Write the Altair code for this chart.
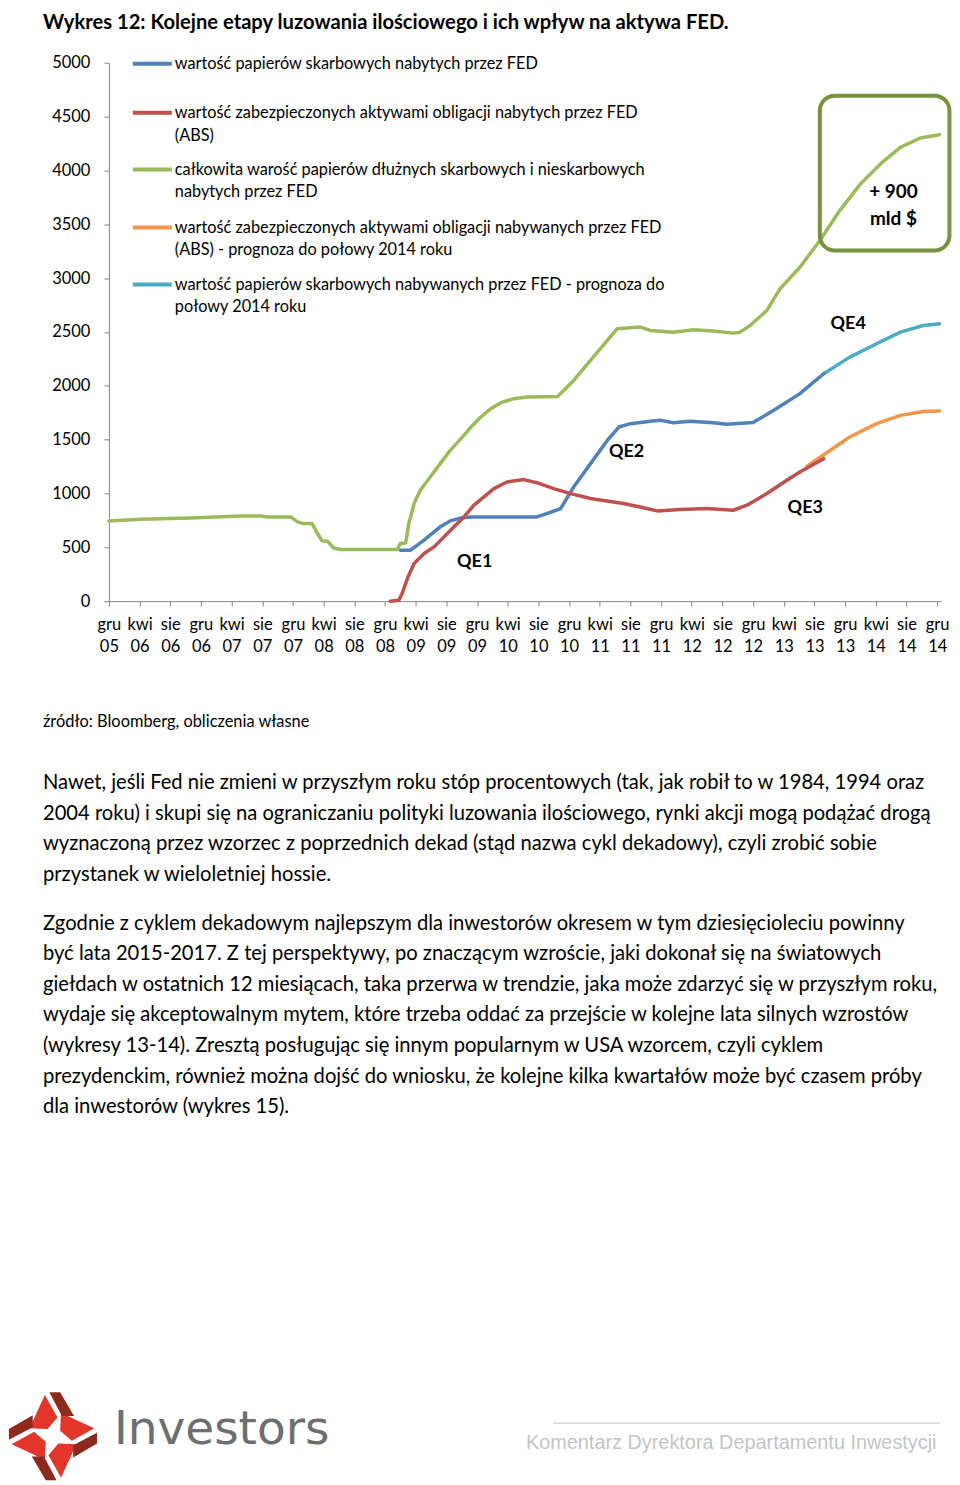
import altair as alt
import pandas as pd

# ---------------- data ----------------
TITLE = "Wykres 12: Kolejne etapy luzowania ilościowego i ich wpływ na aktywa FED."

SERIES_KEYS = ["tsy", "abs", "total", "abs_f", "tsy_f"]
SERIES_LABELS = [
    "wartość papierów skarbowych nabytych przez FED",
    "wartość zabezpieczonych aktywami obligacji nabytych przez FED\n(ABS)",
    "całkowita warość papierów dłużnych skarbowych i nieskarbowych\nnabytych przez FED",
    "wartość zabezpieczonych aktywami obligacji nabywanych przez FED\n(ABS) - prognoza do połowy 2014 roku",
    "wartość papierów skarbowych nabywanych przez FED - prognoza do\npołowy 2014 roku",
]
SERIES_COLORS = ["#4F81BD", "#C0504D", "#9BBB59", "#F79646", "#4BACC6"]

X_LABELS = ["gru 05", "kwi 06", "sie 06", "gru 06", "kwi 07", "sie 07", "gru 07",
            "kwi 08", "sie 08", "gru 08", "kwi 09", "sie 09", "gru 09", "kwi 10",
            "sie 10", "gru 10", "kwi 11", "sie 11", "gru 11", "kwi 12", "sie 12",
            "gru 12", "kwi 13", "sie 13", "gru 13", "kwi 14", "sie 14", "gru 14"]
Y_TICKS = [0, 500, 1000, 1500, 2000, 2500, 3000, 3500, 4000, 4500, 5000]

# months since Dec 2005, values in bn USD
TOTAL_M = [0, 4.2, 10.7, 17.2, 19.8, 20.7, 23.7, 24.6, 25.4, 26.5, 27.2, 27.8, 28.5,
           29.3, 30.2, 37.6, 38.0, 38.7, 39.1, 39.8, 40.6, 41.9, 43.2, 44.5, 45.9,
           47.2, 48.5, 49.8, 51.1, 52.8, 54.5, 58.5, 59.1, 60.6, 62.8, 65.0, 66.3,
           69.3, 70.6, 73.6, 76.2, 78.8, 81.4, 82.3, 83.6, 85.8, 87.5, 90.1, 92.7,
           95.3, 98.0, 100.6, 103.2, 105.8, 108.3]
TOTAL_V = [745, 761, 773, 791, 791, 782, 782, 736, 720, 720, 628, 560, 557,
           494, 479, 479, 535, 540, 720, 906, 1030, 1153, 1277, 1400, 1509,
           1617, 1710, 1787, 1843, 1880, 1895, 1900, 1942, 2050, 2236, 2421, 2530,
           2545, 2514, 2498, 2520, 2508, 2489, 2498, 2560, 2700, 2900, 3101, 3349,
           3627, 3875, 4060, 4214, 4301, 4332]

TSY_M = [38.0, 39.3, 41.1, 43.2, 44.5, 45.9, 47.2, 55.8, 57.1, 58.9, 60.6, 62.8,
         65.0, 66.5, 68.0, 70.6, 72.0, 73.6, 75.8, 78.8, 80.6, 84.0, 86.7, 90.1, 93.2]
TSY_V = [473, 473, 566, 690, 745, 773, 782, 782, 813, 860, 1060, 1277,
         1494, 1617, 1648, 1670, 1679, 1657, 1670, 1657, 1642, 1660, 1772, 1927, 2112]

ABS_M = [36.7, 37.8, 38.2, 39.0, 39.8, 41.1, 42.4, 43.7, 45.0, 46.3, 47.6, 48.9,
         50.2, 51.9, 54.1, 55.8, 58.0, 60.2, 62.8, 67.1, 69.3, 71.5, 74.5, 78.0,
         81.4, 83.2, 85.8, 88.4, 90.1, 93.2]
ABS_V = [0, 9, 65, 225, 350, 442, 504, 597, 690, 782, 891, 968,
         1045, 1107, 1129, 1100, 1045, 999, 953, 906, 875, 838, 851, 860,
         844, 891, 999, 1122, 1200, 1323]

ABS_F_M = [91.0, 93.2, 96.6, 100.1, 103.2, 106.2, 108.3]
ABS_F_V = [1250, 1360, 1524, 1648, 1725, 1762, 1765]

TSY_F_M = [93.2, 96.6, 100.1, 103.2, 106.2, 108.3]
TSY_F_V = [2112, 2266, 2390, 2498, 2560, 2576]

QE_TEXT = ["QE1", "QE2", "QE3", "QE4"]
QE_M = [47.7, 67.5, 90.8, 96.4]
QE_V = [362, 1382, 863, 2570]

BOX_TEXT = ["+ 900", "mld $"]
BOX_TEXT_M = [102.3, 102.3]
BOX_TEXT_V = [3797, 3550]
BOX_M = [92.7, 109.6]
BOX_V = [3256, 4694]

SOURCE = "źródło: Bloomberg, obliczenia własne"
PARA1 = [
    "Nawet, jeśli Fed nie zmieni w przyszłym roku stóp procentowych (tak, jak robił to w 1984, 1994 oraz",
    "2004 roku) i skupi się na ograniczaniu polityki luzowania ilościowego, rynki akcji mogą podążać drogą",
    "wyznaczoną przez wzorzec z poprzednich dekad (stąd nazwa cykl dekadowy), czyli zrobić sobie",
    "przystanek w wieloletniej hossie.",
]
PARA2 = [
    "Zgodnie z cyklem dekadowym najlepszym dla inwestorów okresem w tym dziesięcioleciu powinny",
    "być lata 2015-2017. Z tej perspektywy, po znaczącym wzroście, jaki dokonał się na światowych",
    "giełdach w ostatnich 12 miesiącach, taka przerwa w trendzie, jaka może zdarzyć się w przyszłym roku,",
    "wydaje się akceptowalnym mytem, które trzeba oddać za przejście w kolejne lata silnych wzrostów",
    "(wykresy 13-14). Zresztą posługując się innym popularnym w USA wzorcem, czyli cyklem",
    "prezydenckim, również można dojść do wniosku, że kolejne kilka kwartałów może być czasem próby",
    "dla inwestorów (wykres 15).",
]
LOGO_TEXT = "Investors"
FOOTER = "Komentarz Dyrektora Departamentu Inwestycji"

# ---------------- tables ----------------
def series_df(key, ms, vs):
    return pd.DataFrame({"m": ms, "v": vs, "s": key})

actual = pd.concat([series_df("tsy", TSY_M, TSY_V),
                    series_df("abs", ABS_M, ABS_V),
                    series_df("total", TOTAL_M, TOTAL_V)], ignore_index=True)
forecast = pd.concat([series_df("abs_f", ABS_F_M, ABS_F_V),
                      series_df("tsy_f", TSY_F_M, TSY_F_V)], ignore_index=True)

FONT = "Lato"
W, H = 833, 539

xscale = alt.Scale(domain=[0, 108.5], nice=False, zero=False)
yscale = alt.Scale(domain=[0, 5000], nice=False)
cscale = alt.Scale(domain=SERIES_KEYS, range=SERIES_COLORS)

label_arr = "[" + ",".join("'" + s + "'" for s in X_LABELS) + "]"
x_axis = alt.Axis(values=list(range(0, 109, 4)), title=None, grid=False,
                  labelExpr="split(" + label_arr + "[round(datum.value/4)], ' ')",
                  domainColor="#868686", tickColor="#868686", tickSize=5,
                  labelFont=FONT, labelFontSize=16.5, labelColor="#000000",
                  labelPadding=10, labelLineHeight=22, labelOverlap=False,
                  labelFlush=False, labelBound=False)
y_axis = alt.Axis(values=Y_TICKS, title=None, grid=False, format="d",
                  domainColor="#868686", tickColor="#868686", tickSize=5,
                  labelFont=FONT, labelFontSize=16.5, labelColor="#000000",
                  labelPadding=14)

X = lambda f: alt.X(f, scale=xscale, axis=x_axis)
Y = lambda f: alt.Y(f, scale=yscale, axis=y_axis)

def lines(df):
    return alt.Chart(df).mark_line(strokeWidth=3.5, strokeCap="round", strokeJoin="round").encode(
        x=X("m:Q"), y=Y("v:Q"),
        color=alt.Color("s:N", scale=cscale, legend=None),
        order=alt.Order("m:Q"),
    )

fc_layer = lines(forecast)
act_layer = lines(actual)

qe_df = pd.DataFrame({"t": QE_TEXT, "m": QE_M, "v": QE_V})
qe_layer = alt.Chart(qe_df).mark_text(font=FONT, fontSize=18, fontWeight="bold",
                                      color="#000000", align="center", baseline="middle").encode(
    x=X("m:Q"), y=Y("v:Q"), text="t:N")

box_df = pd.DataFrame({"m": [BOX_M[0]], "m2": [BOX_M[1]], "v": [BOX_V[0]], "v2": [BOX_V[1]]})
box_layer = alt.Chart(box_df).mark_rect(fillOpacity=0, stroke="#77933C", strokeWidth=4,
                                        cornerRadius=15).encode(
    x=X("m:Q"), x2="m2:Q", y=Y("v:Q"), y2="v2:Q")

boxt_df = pd.DataFrame({"t": BOX_TEXT, "m": BOX_TEXT_M, "v": BOX_TEXT_V})
boxt_layer = alt.Chart(boxt_df).mark_text(font=FONT, fontSize=19, fontWeight="bold",
                                          color="#000000", align="center", baseline="middle").encode(
    x=X("m:Q"), y=Y("v:Q"), text="t:N")

# ---------------- page furniture (pixel layout relative to plot origin) ----------------
def one_row(text=""):
    return pd.DataFrame({"t": [text]})

def text_block(lines_, x, y, size, font=FONT, weight="normal", color="#000000",
               align="left", baseline="alphabetic", lh=None):
    return alt.Chart(one_row("\n".join(lines_))).mark_text(
        font=font, fontSize=size, fontWeight=weight, color=color, align=align,
        baseline=baseline, lineBreak="\n", lineHeight=lh if lh else size * 1.25
    ).encode(x=alt.value(x), y=alt.value(y), text="t:N")

LEGEND_Y = [1, 50, 107, 165, 222]
legend_layers = []
for lab, col, yy in zip(SERIES_LABELS, SERIES_COLORS, LEGEND_Y):
    legend_layers.append(
        alt.Chart(one_row()).mark_rule(color=col, strokeWidth=4).encode(
            x=alt.value(24), x2=alt.value(63), y=alt.value(yy)))
    legend_layers.append(text_block(lab.split("\n"), 66, yy + 5.5, 16.3, lh=22.4))

# invisible pin that fixes the top edge of the page layout
top_pin = alt.Chart(one_row()).mark_rule(strokeWidth=0.5, opacity=0).encode(
    x=alt.value(-66), x2=alt.value(-60), y=alt.value(-54))
title_layer = text_block([TITLE], -66, -34, 20.2, weight="bold", baseline="alphabetic")
source_layer = text_block([SOURCE], -66, 665, 16.4)
p1_layer = text_block(PARA1, -66, 727, 20.2, lh=30.6)
p2_layer = text_block(PARA2, -66, 868, 20.2, lh=30.6)

# logo: pinwheel built from two custom symbol paths
def rot(p, k):
    x, y = p
    for _ in range(k):
        x, y = -y, x
    return (x, y)

RED_PIECE = [(-0.18, -0.92), (0.1, -0.42), (-0.12, -0.16), (-0.52, -0.18)]
DARK_PIECE = [(-0.08, -0.98), (0.16, -0.98), (0.47, -0.45), (0.2, -0.45)]

def pinwheel(piece):
    parts = []
    for k in range(4):
        pts = [rot(p, k) for p in piece]
        parts.append("M" + " L".join(f"{x:.3f},{y:.3f}" for x, y in pts) + " Z")
    return " ".join(parts)

logo_red = alt.Chart(one_row()).mark_point(shape=pinwheel(RED_PIECE), size=8100, filled=True,
                                           color="#E4352B", opacity=1, strokeWidth=0).encode(
    x=alt.value(-56), y=alt.value(1375))
logo_dark = alt.Chart(one_row()).mark_point(shape=pinwheel(DARK_PIECE), size=8100, filled=True,
                                            color="#8E2A1C", opacity=1, strokeWidth=0).encode(
    x=alt.value(-56), y=alt.value(1375))
logo_text = text_block([LOGO_TEXT], 5, 1383, 47, font="DejaVu Sans", color="#6D6E71")

footer_rule = alt.Chart(one_row()).mark_rule(color="#D9D9D9", strokeWidth=1.5).encode(
    x=alt.value(445), x2=alt.value(832), y=alt.value(1362))
footer_text = text_block([FOOTER], 623, 1387.5, 19.9, font="Liberation Sans",
                         color="#C4C4C4", align="center")

chart = alt.layer(
    fc_layer, act_layer, qe_layer, box_layer, boxt_layer,
    *legend_layers, top_pin, title_layer, source_layer, p1_layer, p2_layer,
    logo_red, logo_dark, logo_text, footer_rule, footer_text,
).properties(width=W, height=H, padding=0).configure_view(stroke=None)

chart.save("out.html", embed_options={"renderer": "svg", "actions": False})
